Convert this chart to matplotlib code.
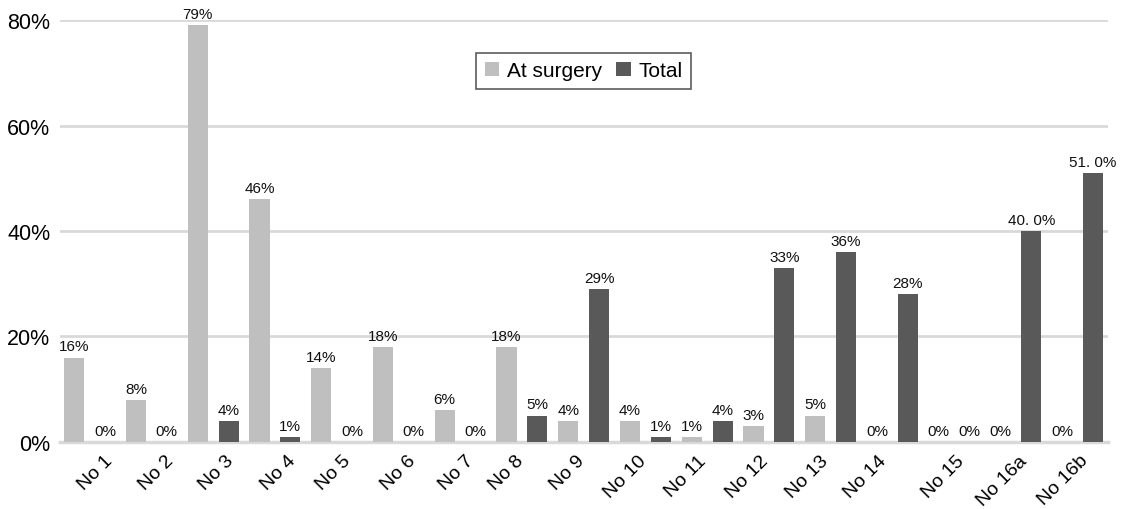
import numpy as np
import matplotlib
matplotlib.use("Agg")
import matplotlib.pyplot as plt
from matplotlib.patches import Patch
from matplotlib.transforms import ScaledTranslation

plt.rcParams['font.family'] = ['Liberation Sans', 'DejaVu Sans']

stations = ['No 1', 'No 2', 'No 3', 'No 4', 'No 5', 'No 6', 'No 7', 'No 8', 'No 9',
            'No 10', 'No 11', 'No 12', 'No 13', 'No 14', 'No 15', 'No 16a', 'No 16b']
at_surgery = [16, 8, 79, 46, 14, 18, 6, 18, 4, 4, 1, 3, 5, 0, 0, 0, 0]
total = [0, 0, 4, 1, 0, 0, 0, 5, 29, 1, 4, 33, 36, 28, 0, 40, 51]
at_surgery_labels = ['16%', '8%', '79%', '46%', '14%', '18%', '6%', '18%', '4%',
                     '4%', '1%', '3%', '5%', '0%', '0%', '0%', '0%']
total_labels = ['0%', '0%', '4%', '1%', '0%', '0%', '0%', '5%', '29%',
                '1%', '4%', '33%', '36%', '28%', '0%', '40. 0%', '51. 0%']

# small horizontal nudges (px) for the rotated station names
label_nudge = [14, 14, 12, 12, 5, 9, 5, -7, -8, -8, -10, -9, -11, -15, 1, 2, 2]

LIGHT = '#bfbfbf'
DARK = '#595959'

fig = plt.figure(figsize=(11.22, 5.10), dpi=100)
ax = fig.add_axes([0.0535, 0.1314, 0.934, 0.8274])

x = np.arange(len(stations))
w = 0.325
b1 = ax.bar(x - 0.25, np.array(at_surgery) / 100, w, color=LIGHT, zorder=3)
b2 = ax.bar(x + 0.25, np.array(total) / 100, w, color=DARK, zorder=3)

for bars, texts in ((b1, at_surgery_labels), (b2, total_labels)):
    for bar, t in zip(bars, texts):
        ax.annotate(t, (bar.get_x() + bar.get_width() / 2, bar.get_height()),
                    xytext=(0, 3), textcoords='offset points', ha='center', va='bottom',
                    fontsize=11, color='#111111', clip_on=False, zorder=4)

ax.set_xlim(-0.48, 16.49)
ax.set_ylim(0, 0.8)
ax.set_yticks([0, 0.2, 0.4, 0.6, 0.8])
ax.set_yticklabels(['0%', '20%', '40%', '60%', '80%'], fontsize=15.5)
ax.yaxis.grid(True, color='#d9d9d9', linewidth=2, zorder=0)
ax.tick_params(axis='both', length=0)
ax.tick_params(axis='y', pad=7)
ax.tick_params(axis='x', pad=7)

ax.set_xticks(x)
ax.set_xticklabels(stations, rotation=45, ha='right', rotation_mode='anchor', fontsize=14)
for lab, dx in zip(ax.get_xticklabels(), label_nudge):
    lab.set_transform(lab.get_transform() + ScaledTranslation(dx / 100, 0, fig.dpi_scale_trans))

for s in ['top', 'right', 'left']:
    ax.spines[s].set_visible(False)
ax.spines['bottom'].set_color('#d9d9d9')
ax.spines['bottom'].set_linewidth(2.5)

handles = [Patch(facecolor=LIGHT, label='At surgery'), Patch(facecolor=DARK, label='Total')]
leg = fig.legend(handles=handles, loc='center', bbox_to_anchor=(0.52, 0.859), ncol=2,
                 fontsize=15, frameon=True, fancybox=False, handlelength=0.7,
                 handleheight=0.7, handletextpad=0.35, columnspacing=0.7,
                 borderpad=0.4, borderaxespad=0)
leg.get_frame().set_edgecolor('#333333')
leg.get_frame().set_linewidth(1.2)

fig.savefig('out.png', dpi=100)
